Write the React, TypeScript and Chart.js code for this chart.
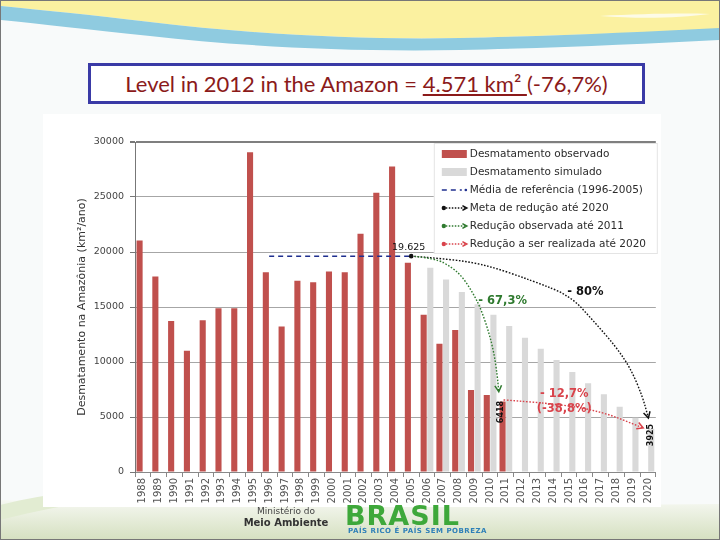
import React, { useEffect, useRef } from "react";
import { Chart, registerables } from "chart.js";
Chart.register(...registerables);

const years = ["1988","1989","1990","1991","1992","1993","1994","1995","1996","1997","1998","1999","2000","2001","2002","2003","2004","2005","2006","2007","2008","2009","2010","2011","2012","2013","2014","2015","2016","2017","2018","2019","2020"];

const observed = [21050,17770,13730,11030,13786,14896,14896,29059,18161,13227,17383,17259,18226,18165,21651,25396,27772,19014,14286,11651,12911,7464,7000,6418,null,null,null,null,null,null,null,null,null];

const simulated = [null,null,null,null,null,null,null,null,null,null,null,null,null,null,null,null,null,null,18570,17500,16360,15250,14300,13270,12200,11200,10180,9100,8060,7060,5940,4930,3925];

const yTicks = [0, 5000, 10000, 15000, 20000, 25000, 30000];

const referenceAvg = 19625;
const referenceFrom = "1996";
const referenceTo = "2005";

// annotation curves in (category index, km²) data units
const metaCurve = [[17,19625],[18.4,19480],[21.4,19000],[24.75,17360],[27.1,16000],[28.55,13730],[29.94,11450],[30.89,9450],[31.65,6900],[32.03,4900]];
const observedCurve = [[17,19625],[18.5,19450],[19.6,18600],[20.3,17640],[20.9,16300],[21.4,14900],[21.9,12800],[22.25,10800],[22.45,8800],[22.55,7300]];
const remainingCurve = [[22.85,6550],[25.8,6270],[29.0,5550],[31.7,4000]];

const noteTexts = ["19.625","- 67,3%","- 80%","- 12,7%","(-38,8%)","6418","3925"];
const noteAnchors = [[16.84,20450],[22.79,15545],[28.04,16364],[26.7,7090],[26.7,5727],[22.66,5450],[32.16,3360]];

const legendLabels = ["Desmatamento observado","Desmatamento simulado","Média de referência (1996-2005)","Meta de redução até 2020","Redução observada até 2011","Redução a ser realizada até 2020"];

const RED = "#c0504d";
const GREY = "#d9d9d9";
const NAVY = "#1f2f8f";
const GREEN = "#2f7a2f";
const ARED = "#d9434b";
const FONT = "DejaVu Sans";

function smooth(ctx: CanvasRenderingContext2D, pts: number[][]) {
  ctx.beginPath();
  ctx.moveTo(pts[0][0], pts[0][1]);
  for (let i = 1; i < pts.length - 1; i++) {
    const mx = (pts[i][0] + pts[i + 1][0]) / 2;
    const my = (pts[i][1] + pts[i + 1][1]) / 2;
    ctx.quadraticCurveTo(pts[i][0], pts[i][1], mx, my);
  }
  const l = pts[pts.length - 1];
  ctx.lineTo(l[0], l[1]);
  ctx.stroke();
}

function arrowHead(ctx: CanvasRenderingContext2D, from: number[], to: number[], color: string, len = 7) {
  const ang = Math.atan2(to[1] - from[1], to[0] - from[0]);
  ctx.save();
  ctx.setLineDash([]);
  ctx.strokeStyle = color;
  ctx.lineWidth = 1.5;
  ctx.beginPath();
  ctx.moveTo(to[0] - len * Math.cos(ang - 0.5), to[1] - len * Math.sin(ang - 0.5));
  ctx.lineTo(to[0], to[1]);
  ctx.lineTo(to[0] - len * Math.cos(ang + 0.5), to[1] - len * Math.sin(ang + 0.5));
  ctx.stroke();
  ctx.restore();
}

const annotations = {
  id: "annotations",
  beforeDatasetsDraw(chart: any) {
    const { ctx, chartArea: a } = chart;
    const x0 = a.right - 222;
    const y0 = a.top + 1;
    ctx.save();
    ctx.fillStyle = "#ffffff";
    ctx.fillRect(x0, y0, 224, 111);
    ctx.strokeStyle = "#e4e4e4";
    ctx.lineWidth = 1;
    ctx.strokeRect(x0 + 0.5, y0 + 0.5, 223, 110);
    const styles = [RED, GREY, NAVY, "#111111", GREEN, ARED];
    legendLabels.forEach((lab, i) => {
      const cy = y0 + 11 + i * 18;
      const sx = x0 + 8;
      const c = styles[i];
      if (i < 2) {
        ctx.fillStyle = c;
        ctx.fillRect(sx, cy - 4, 25, 8);
      } else if (i === 2) {
        ctx.strokeStyle = c;
        ctx.lineWidth = 1.5;
        ctx.setLineDash([5, 4]);
        ctx.beginPath();
        ctx.moveTo(sx, cy);
        ctx.lineTo(sx + 20, cy);
        ctx.stroke();
        ctx.setLineDash([]);
        ctx.fillStyle = c;
        ctx.beginPath();
        ctx.arc(sx + 24, cy, 1.3, 0, Math.PI * 2);
        ctx.fill();
      } else {
        ctx.fillStyle = c;
        ctx.beginPath();
        ctx.arc(sx + 2, cy, 2.2, 0, Math.PI * 2);
        ctx.fill();
        ctx.strokeStyle = c;
        ctx.lineWidth = 1.3;
        ctx.setLineDash([1.5, 1.5]);
        ctx.beginPath();
        ctx.moveTo(sx + 4, cy);
        ctx.lineTo(sx + 24, cy);
        ctx.stroke();
        arrowHead(ctx, [sx + 10, cy], [sx + 25, cy], c, 5);
      }
      ctx.fillStyle = "#2b2b2b";
      ctx.font = `10.5px "${FONT}"`;
      ctx.textBaseline = "middle";
      ctx.textAlign = "left";
      ctx.fillText(lab, sx + 28, cy);
    });
    ctx.restore();
  },
  afterDatasetsDraw(chart: any) {
    const { ctx } = chart;
    const xs = chart.scales.x;
    const ys = chart.scales.y;
    const px = (p: number[]) => [xs.getPixelForValue(p[0]), ys.getPixelForValue(p[1])];
    const curves: [number[][], string][] = [[metaCurve, "#111111"], [observedCurve, GREEN], [remainingCurve, ARED]];
    ctx.save();
    curves.forEach(([c, col]) => {
      const pts = c.map(px);
      ctx.strokeStyle = col;
      ctx.lineWidth = 1.4;
      ctx.setLineDash([1.6, 1.6]);
      smooth(ctx, pts);
      arrowHead(ctx, pts[pts.length - 2], pts[pts.length - 1], col, 7);
    });
    const s = px(metaCurve[0]);
    ctx.fillStyle = "#111";
    ctx.beginPath();
    ctx.arc(s[0], s[1], 2.3, 0, Math.PI * 2);
    ctx.fill();

    const noteStyle = [
      { color: "#111", font: `9.5px "${FONT}"`, rot: 0 },
      { color: GREEN, font: `bold 11.5px "${FONT}"`, rot: 0 },
      { color: "#111", font: `bold 11.5px "${FONT}"`, rot: 0 },
      { color: ARED, font: `bold 11.5px "${FONT}"`, rot: 0 },
      { color: ARED, font: `bold 11.5px "${FONT}"`, rot: 0 },
      { color: "#111", font: `bold 8px "${FONT}"`, rot: -Math.PI / 2 },
      { color: "#111", font: `bold 8px "${FONT}"`, rot: -Math.PI / 2 },
    ];
    noteTexts.forEach((t, i) => {
      const p = px(noteAnchors[i]);
      const st = noteStyle[i];
      ctx.save();
      ctx.translate(p[0], p[1]);
      ctx.rotate(st.rot);
      ctx.fillStyle = st.color;
      ctx.font = st.font;
      ctx.textAlign = "center";
      ctx.textBaseline = "middle";
      ctx.fillText(t, 0, 0);
      ctx.restore();
    });
    ctx.restore();
  },
};

function ChartBox() {
  const ref = useRef<HTMLCanvasElement | null>(null);
  useEffect(() => {
    if (!ref.current) return;
    const iFrom = years.indexOf(referenceFrom);
    const iTo = years.indexOf(referenceTo);
    const refLine = years.map((_, i) => (i >= iFrom && i <= iTo ? referenceAvg : null));
    const chart = new Chart(ref.current, {
      type: "bar",
      data: {
        labels: years,
        datasets: [
          { type: "line", label: "Média", data: refLine, borderColor: NAVY, borderWidth: 1.5, borderDash: [5, 4], pointRadius: 0, fill: false, order: 0 } as any,
          { label: "Desmatamento observado", data: observed, backgroundColor: RED, categoryPercentage: 0.84, barPercentage: 0.92, order: 2 },
          { label: "Desmatamento simulado", data: simulated, backgroundColor: GREY, categoryPercentage: 0.84, barPercentage: 0.92, order: 3 },
        ],
      },
      options: {
        responsive: false,
        animation: false,
        layout: { padding: { left: 33, right: 5, top: 28, bottom: 0 } },
        plugins: { legend: { display: false }, tooltip: { enabled: false } },
        scales: {
          x: {
            grid: { display: true, drawOnChartArea: false, drawTicks: true, tickLength: 5, color: "#888" },
            border: { color: "#888" },
            ticks: { minRotation: 90, maxRotation: 90, autoSkip: false, color: "#555", padding: 1, font: { family: FONT, size: 10 } },
            afterFit: (sc: any) => { sc.height = 37; },
          },
          y: {
            min: 0,
            max: 30000,
            afterBuildTicks: (sc: any) => { sc.ticks = yTicks.map((v) => ({ value: v })); },
            ticks: { color: "#444", padding: 6, font: { family: FONT, size: 9.5 }, callback: (v: any) => String(v) },
            grid: {
              color: (c: any) => (c.tick && c.tick.value === 30000 ? "#7f7f7f" : "#a6a6a6"),
              lineWidth: (c: any) => (c.tick && c.tick.value === 30000 ? 2 : 1),
              tickLength: 5,
              tickColor: "#777",
            },
            border: { color: "#777" },
            title: { display: true, text: "Desmatamento na Amazônia (km²/ano)", color: "#333", padding: 0, font: { family: FONT, size: 11 } },
            afterFit: (sc: any) => { sc.width = 59; },
          },
        },
      },
      plugins: [annotations],
    });
    return () => chart.destroy();
  }, []);
  return <canvas ref={ref} width={618} height={395} style={{ display: "block" }} />;
}

export default function App() {
  useEffect(() => {
    document.body.style.margin = "0";
  }, []);
  return (
    <div style={{ position: "fixed", left: 0, top: 0, width: 720, height: 540, overflow: "hidden", background: "#f8fafa", boxSizing: "border-box", border: "1px solid #777" }}>
      <svg width={720} height={540} style={{ position: "absolute", left: -1, top: -1 }}>
        <defs>
          <linearGradient id="bot" x1="0" y1="0" x2="0" y2="1">
            <stop offset="0" stopColor="#f6f8f2" />
            <stop offset="1" stopColor="#d5e0c0" />
          </linearGradient>
        </defs>
        <path d="M0,0 H720 V30 C640,32 560,36 460,38 C360,40 250,34 150,22 C90,15 40,10 0,6 Z" fill="#fbf1a0" />
        <path d="M0,6 C40,10 90,15 150,22 C250,34 360,40 460,38 C560,36 640,32 720,28 V40 C640,44 560,48 460,50 C340,52 240,46 150,36 C90,30 40,24 0,20 Z" fill="#8fcbe0" />
        <path d="M600,16 C640,14 680,13 710,14 C680,18 640,19 600,16 Z" fill="#fdfbe6" />
        <path d="M0,500 C120,505 300,508 720,504 V540 H0 Z" fill="url(#bot)" />
        <path d="M0,505 C60,490 120,485 180,488 C120,495 60,505 0,520 Z" fill="#e2ecd2" />
      </svg>
      <div style={{ position: "absolute", left: 42, top: 113, width: 618, height: 393, background: "#ffffff" }} />
      <div style={{ position: "absolute", left: 42, top: 113 }}>
        <ChartBox />
      </div>
      <div style={{ position: "absolute", left: 87, top: 62, width: 557, height: 41, boxSizing: "border-box", border: "3px solid #3a3aa6", background: "#fff", color: "#8b1a1a", fontFamily: "Lato", fontSize: 22, lineHeight: "35px", textAlign: "center", whiteSpace: "nowrap" }}>
        Level in 2012 in the Amazon = <span style={{ textDecoration: "underline" }}>4.571 km²&nbsp;</span>(-76,7%)
      </div>
      <div style={{ position: "absolute", left: 235, top: 505, width: 100, textAlign: "center", fontFamily: "DejaVu Sans", color: "#444", lineHeight: "11px", whiteSpace: "nowrap" }}>
        <div style={{ fontSize: 9 }}>Ministério do</div>
        <div style={{ fontSize: 10, fontWeight: "bold", color: "#333" }}>Meio Ambiente</div>
      </div>
      <div style={{ position: "absolute", left: 344, top: 501, fontFamily: "DejaVu Sans", fontWeight: "bold", fontSize: 27, color: "#3ea83a", letterSpacing: 1, lineHeight: "28px" }}>BRASIL</div>
      <div style={{ position: "absolute", left: 347, top: 526, fontFamily: "DejaVu Sans", fontWeight: "bold", fontSize: 7, color: "#2e80b8", letterSpacing: 0.5 }}>PAÍS RICO É PAÍS SEM POBREZA</div>
    </div>
  );
}
